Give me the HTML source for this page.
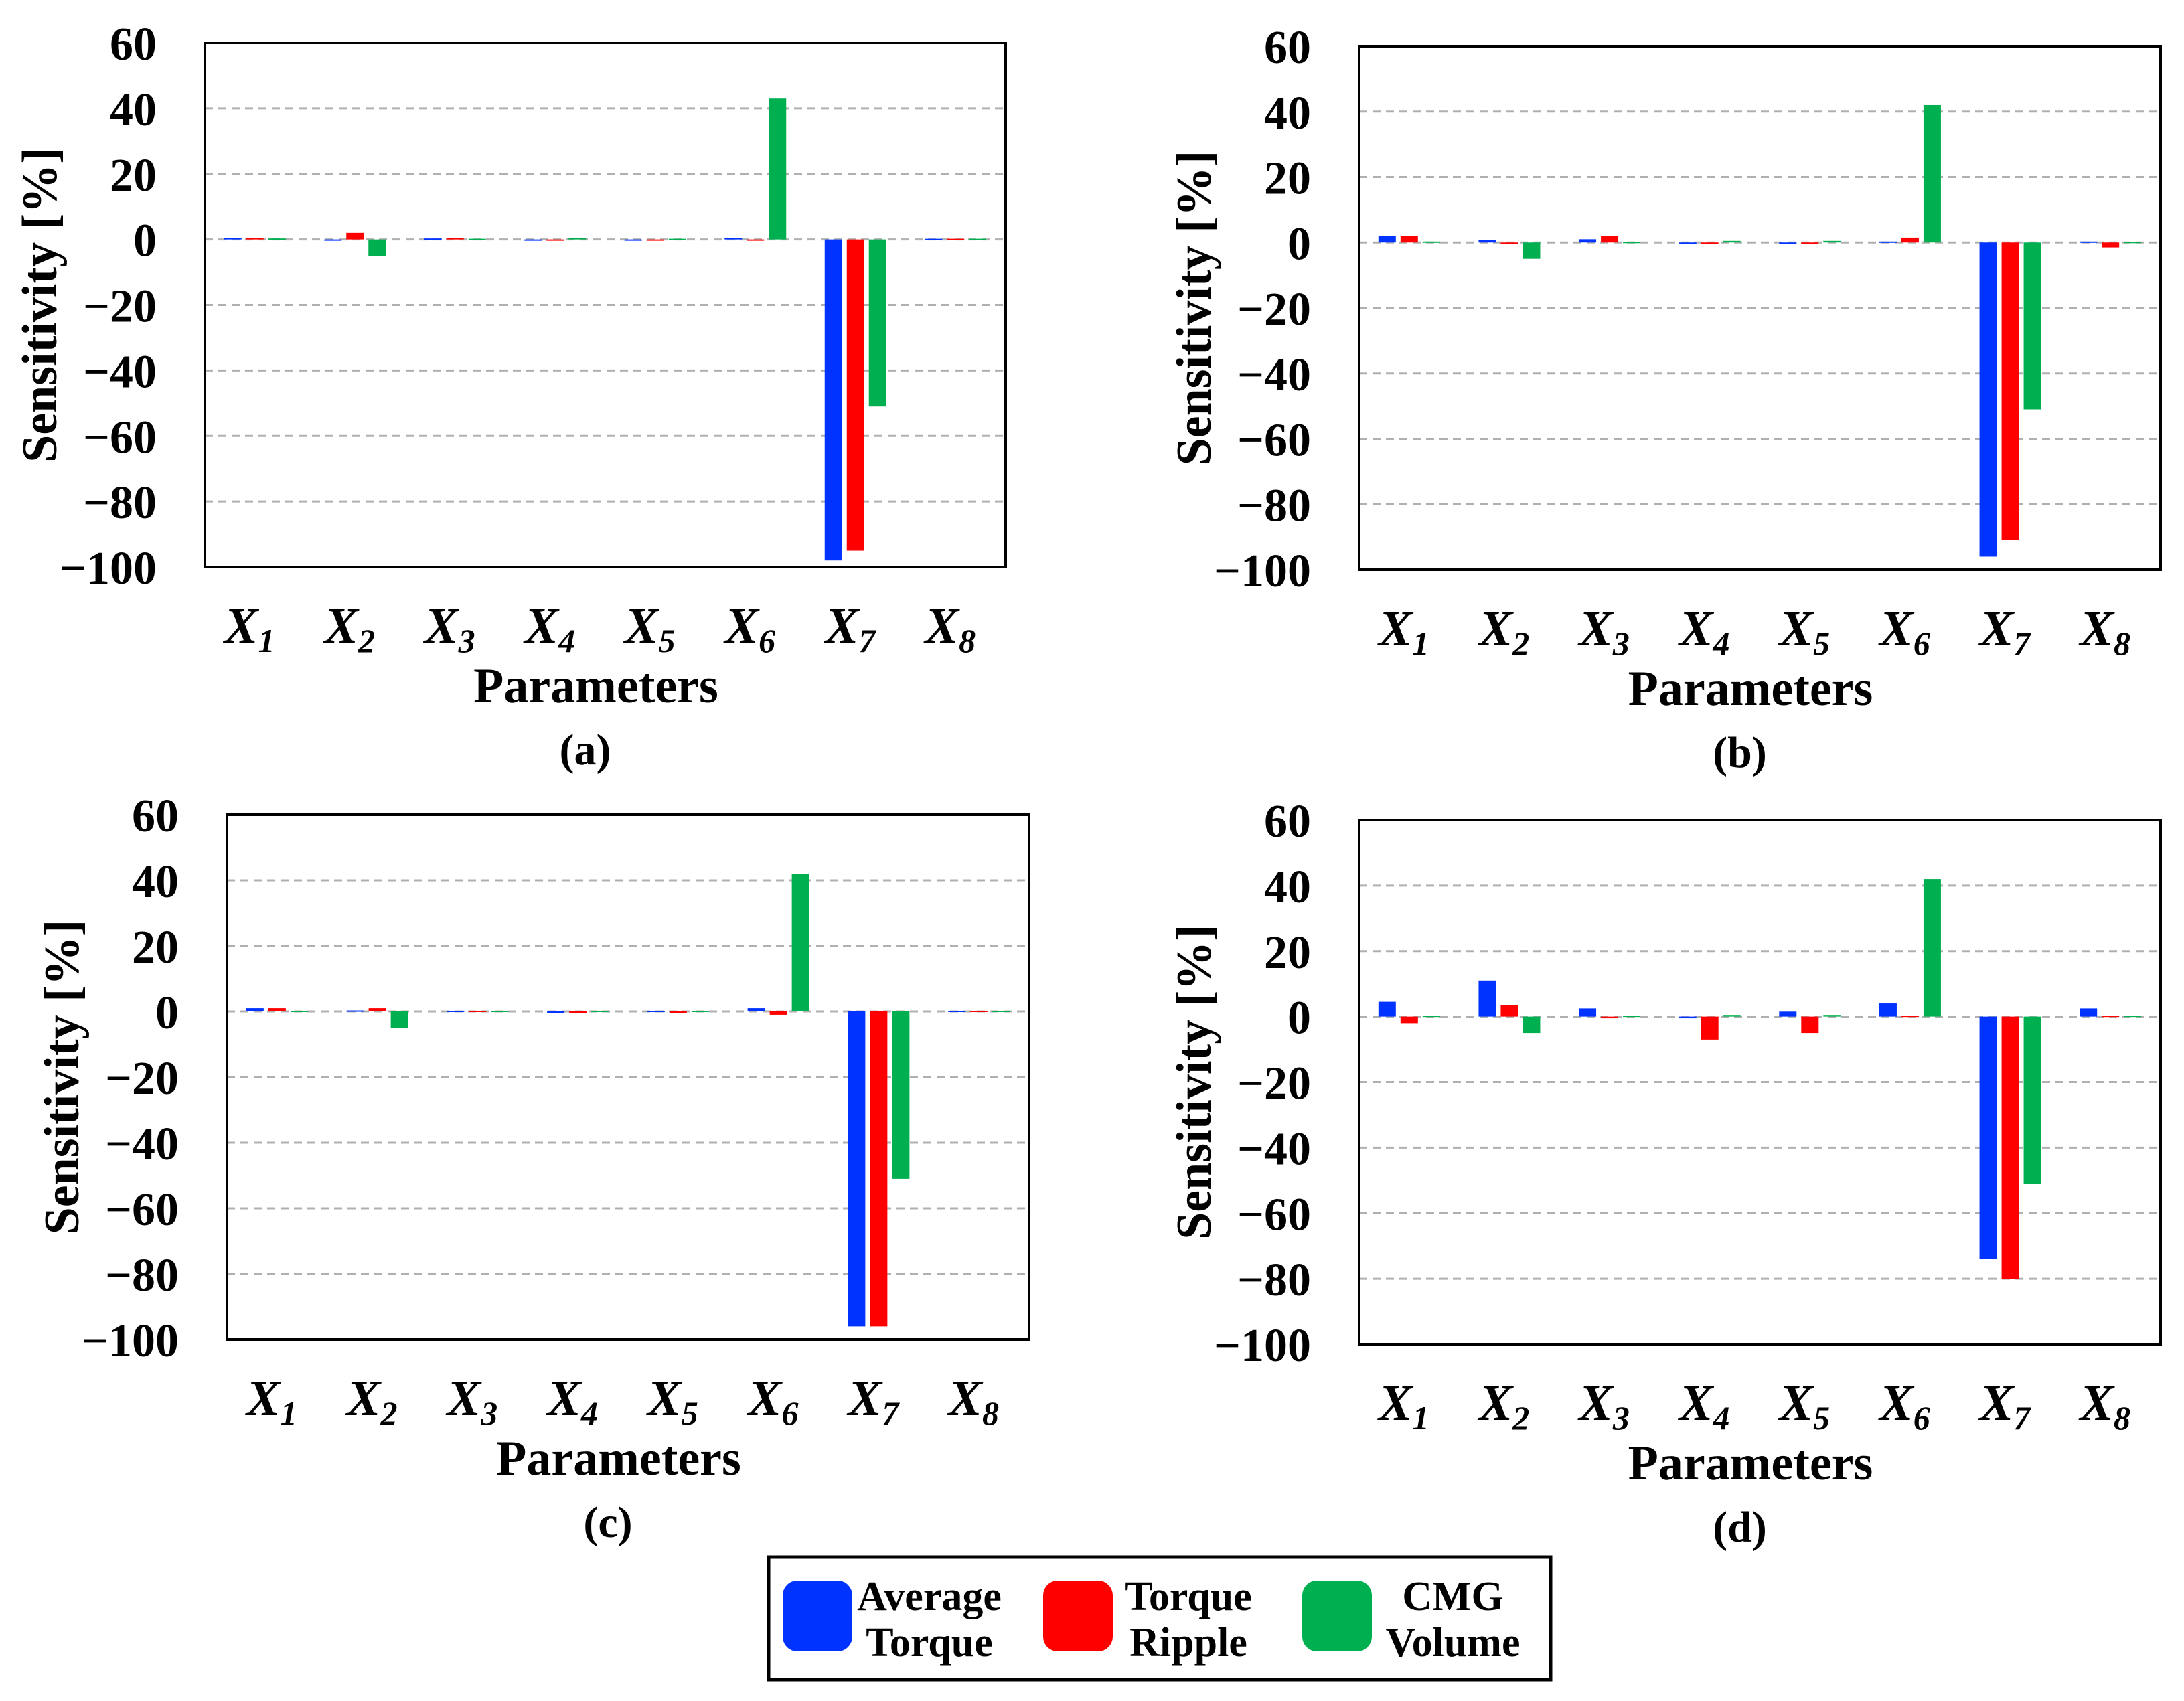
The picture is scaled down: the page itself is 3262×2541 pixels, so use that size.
<!DOCTYPE html>
<html><head><meta charset="utf-8"><style>
html,body{margin:0;padding:0;background:#fff;}
svg{display:block;font-family:"Liberation Serif",serif;font-weight:bold;}
</style></head><body>
<svg id="fig" width="3262" height="2541" viewBox="0 0 3262 2541" xmlns="http://www.w3.org/2000/svg"></svg>
<script>
const categories = ["1","2","3","4","5","6","7","8"];
const seriesNames = ["Average Torque","Torque Ripple","CMG Volume"];
const yTicks = [60,40,20,0,-20,-40,-60,-80,-100];
const panelLabels = ["(a)","(b)","(c)","(d)"];
const avgA = [0.5,-0.3,0.3,-0.3,-0.3,0.5,-98,0.2];
const ripA = [0.5,2,0.5,-0.3,-0.3,-0.3,-95,0.2];
const cmgA = [0.3,-5,0.2,0.5,0.2,43,-51,0.2];
const avgB = [2,0.8,1,-0.3,-0.3,0.3,-96,0.3];
const ripB = [2,-0.5,2,-0.3,-0.5,1.5,-91,-1.5];
const cmgB = [0.3,-5,0.2,0.5,0.5,42,-51,0.2];
const avgC = [1,0.3,0.2,-0.3,0.2,1,-96,0.2];
const ripC = [1,1,0.2,-0.3,-0.3,-1,-96,0.2];
const cmgC = [0.2,-5,0.2,0.2,0.2,42,-51,0.2];
const avgD = [4.5,11,2.5,-0.5,1.5,4,-74,2.5];
const ripD = [-2,3.5,-0.5,-7,-5,0.3,-80,0.3];
const cmgD = [0.3,-5,0.3,0.5,0.5,42,-51,0.3];

const colors = ["#0033ff","#ff0000","#00b050"];
const NS = "http://www.w3.org/2000/svg";
const svg = document.getElementById("fig");
function mk(tag, attrs, parent){
  const e = document.createElementNS(NS, tag);
  for (const k in attrs) e.setAttribute(k, attrs[k]);
  (parent||svg).appendChild(e);
  return e;
}
const panels = [
  {box:[306,64,1502,847], data:[avgA,ripA,cmgA]},
  {box:[2030,69,3227,851], data:[avgB,ripB,cmgB]},
  {box:[339,1217,1537,2001], data:[avgC,ripC,cmgC]},
  {box:[2030,1225,3227,2008], data:[avgD,ripD,cmgD]}
];
panels.forEach((p, pi) => {
  const [x0,y0,x1,y1] = p.box;
  const g = mk("g", {});
  
  
  const yMin=-100, yMax=60;
  const ys = v => y1 - (v - yMin) / (yMax - yMin) * (y1 - y0);
  const cw = (x1 - x0) / categories.length;
  const xc = i => x0 + cw * (i + 0.5);
  yTicks.forEach(t => {
    if (t === 60 || t === -100) return;
    const l = mk("line", {x1:x0, x2:x1, y1:ys(t), y2:ys(t), stroke:"#b0b0b0", "stroke-width":3, "stroke-dasharray":"12 8"}, g);
    
    
  });
  const bw = 26, step = 33;
  p.data.forEach((series, si) => {
    series.forEach((v, ci) => {
      const cx = xc(ci) + (si - 1) * step;
      const top = Math.min(ys(v), ys(0)), h = Math.max(Math.abs(ys(v) - ys(0)), 2);
      const r = mk("rect", {x:cx - bw/2, y:top, width:bw, height:h, fill:colors[si]}, g);
      
      
    });
  });
  const fr = mk("rect", {x:x0, y:y0, width:x1-x0, height:y1-y0, fill:"none", stroke:"#000", "stroke-width":4}, g);
  
  
  yTicks.forEach(t => {
    const tx = mk("text", {x:x0 - 72, y:ys(t) + 25, "text-anchor":"end", "font-size":70}, g);
    tx.textContent = t < 0 ? "\u2212" + Math.abs(t) : String(t);
    
    
  });
  const ymid = (y0 + y1) / 2;
  const yt = mk("text", {x:0, y:0, "text-anchor":"middle", "font-size":74, transform:`translate(${x0-222},${ymid}) rotate(-90)`}, g);
  yt.textContent = "Sensitivity [%]";
  
  
  categories.forEach((c, ci) => {
    const t = mk("text", {x:xc(ci) - 8, y:y1 + 113, "text-anchor":"middle", "font-size":76, "font-style":"italic"}, g);
    t.textContent = "X";
    const s = mk("tspan", {"font-size":50, dy:14}, t);
    s.textContent = c;
    
    
  });
  const xt = mk("text", {x:(x0+x1)/2 - 14, y:y1 + 202, "text-anchor":"middle", "font-size":74}, g);
  xt.textContent = "Parameters";
  
  
  const pl = mk("text", {x:(x0+x1)/2 - 30, y:y1 + 295, "text-anchor":"middle", "font-size":66}, g);
  pl.textContent = panelLabels[pi];
  
  
});
const lg = mk("g", {});


const lb = mk("rect", {x:1148, y:2326, width:1168, height:183, fill:"#fff", stroke:"#000", "stroke-width":5}, lg);


const legendItems = [
  {sx:1169, tx:1388, l1:"Average", l2:"Torque"},
  {sx:1558, tx:1775, l1:"Torque", l2:"Ripple"},
  {sx:1945, tx:2170, l1:"CMG", l2:"Volume"}
];
legendItems.forEach((it, i) => {
  const e = mk("g", {}, lg);
  
  
  const sw = mk("rect", {x:it.sx, y:2361, width:104, height:106, rx:22, fill:colors[i]}, e);
  
  
  const t1 = mk("text", {x:it.tx, y:2405, "text-anchor":"middle", "font-size":62}, e);
  t1.textContent = it.l1;
  
  
  const t2 = mk("text", {x:it.tx, y:2474, "text-anchor":"middle", "font-size":62}, e);
  t2.textContent = it.l2;
  
  
});
</script>
</body></html>
